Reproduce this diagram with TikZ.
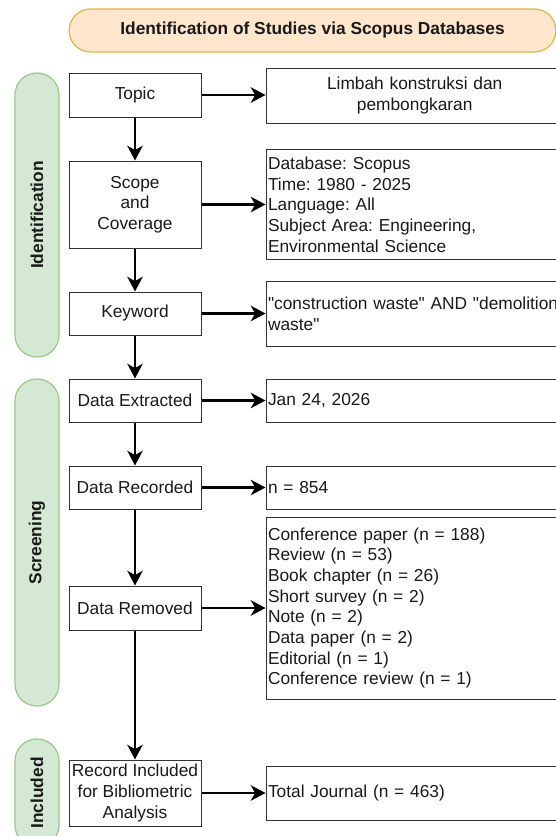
\documentclass[tikz,border=0pt]{standalone}
\usepackage{fontspec}
\setmainfont{Liberation Sans}[Ligatures=TeXOff]
\usepackage{tikz}
\usepackage{xcolor}
\usetikzlibrary{arrows.meta,positioning,shapes,calc}
\frenchspacing
\definecolor{ink}{HTML}{1A1A1A}
\definecolor{boxline}{HTML}{333333}
\definecolor{phasefill}{HTML}{D5E8D4}
\definecolor{phaseline}{HTML}{97C887}
\definecolor{pillfill}{HTML}{FFE6CC}
\definecolor{pillline}{HTML}{E3B444}
\tikzset{
  stepbox/.style={draw=boxline,fill=white,line width=0.75pt,
                  minimum width=99pt,inner sep=1.5pt,align=center,
                  text=ink,font=\fontsize{13}{15.5}\selectfont},
  infobox/.style={draw=boxline,fill=white,line width=0.75pt,
                  text width=220pt,inner xsep=1.5pt,inner ysep=1.5pt,
                  align=left,text=ink,font=\fontsize{13}{15.5}\selectfont},
  phasebar/.style={draw=phaseline,fill=phasefill,line width=0.9pt,
                   minimum height=33pt,rounded corners=16.4pt,rotate=90,
                   text=ink,font=\fontsize{13}{15.5}\selectfont\bfseries},
  titlepill/.style={draw=pillline,fill=pillfill,line width=0.9pt,
                    minimum width=365pt,minimum height=32.25pt,rounded corners=16pt,
                    text=ink,font=\fontsize{13}{15.5}\selectfont\bfseries},
  flowarr/.style={-{Stealth[length=11pt,width=11.5pt,inset=3.2pt]},line width=2pt,color=black}
}

\begin{document}
\begin{tikzpicture}[x=0.75pt,y=-0.75pt]
  \useasboundingbox (0,0) rectangle (556,836);

  \node[titlepill] (title) at (312.5,30.5) {Identification of Studies via Scopus Databases};

  % phase bars on the left
  \node[phasebar,minimum width=213pt] (ident) at (37,215) {Identification};
  \node[phasebar,minimum width=245.25pt] (screen) at (37,542.5) {Screening};
  \node[phasebar,minimum width=81pt] (incl) at (37,793) {Included};

  % main column
  \node[stepbox,minimum height=33pt] (topic) at (135,95) {Topic};
  \node[stepbox,minimum height=65.25pt] (scope) at (135,204.5) {Scope\\and\\Coverage};
  \node[stepbox,minimum height=32.25pt] (keyword) at (135,313.5) {Keyword};
  \node[stepbox,minimum height=32.25pt] (extract) at (135,400.5) {Data Extracted};
  \node[stepbox,minimum height=32.25pt] (record) at (135,487.5) {Data Recorded};
  \node[stepbox,minimum height=33pt] (remove) at (135,608) {Data Removed};
  \node[stepbox,minimum height=49.5pt] (included) at (135,793) {Record Included\\for Bibliometric\\Analysis};

  % detail column
  \node[infobox,align=center,minimum height=41.25pt] (topicinfo) at (414.7,95.5)
    {Limbah konstruksi dan\\pembongkaran};
  \node[infobox,minimum height=82.5pt] (scopeinfo) at (414.7,204.5)
    {Database: Scopus\\Time: 1980 - 2025\\Language: All\\Subject Area: Engineering,\\Environmental Science};
  \node[infobox,minimum height=48.75pt] (keyinfo) at (414.7,313.5)
    {\mbox{"construction waste" AND "demolition}\\waste"};
  \node[infobox,minimum height=32.25pt] (extractinfo) at (414.7,400.5) {Jan 24, 2026};
  \node[infobox,minimum height=32.25pt] (recordinfo) at (414.7,487.5) {n = 854};
  \node[infobox,minimum height=136.5pt] (removeinfo) at (414.7,608)
    {Conference paper (n = 188)\\Review (n = 53)\\Book chapter (n = 26)\\Short survey (n = 2)\\Note (n = 2)\\Data paper (n = 2)\\Editorial (n = 1)\\Conference review (n = 1)};
  \node[infobox,minimum height=40.5pt] (totalinfo) at (414.7,793) {Total Journal (n = 463)};

  \draw[flowarr] (topic) -- (scope);
  \draw[flowarr] (scope) -- (keyword);
  \draw[flowarr] (keyword) -- (extract);
  \draw[flowarr] (extract) -- (record);
  \draw[flowarr] (record) -- (remove);
  \draw[flowarr] (remove) -- (included);

  \draw[flowarr] (topic) -- (topic -| topicinfo.west);
  \draw[flowarr] (scope) -- (scopeinfo);
  \draw[flowarr] (keyword) -- (keyinfo);
  \draw[flowarr] (extract) -- (extractinfo);
  \draw[flowarr] (record) -- (recordinfo);
  \draw[flowarr] (remove) -- (removeinfo);
  \draw[flowarr] (included) -- (totalinfo);
\end{tikzpicture}
\end{document}
